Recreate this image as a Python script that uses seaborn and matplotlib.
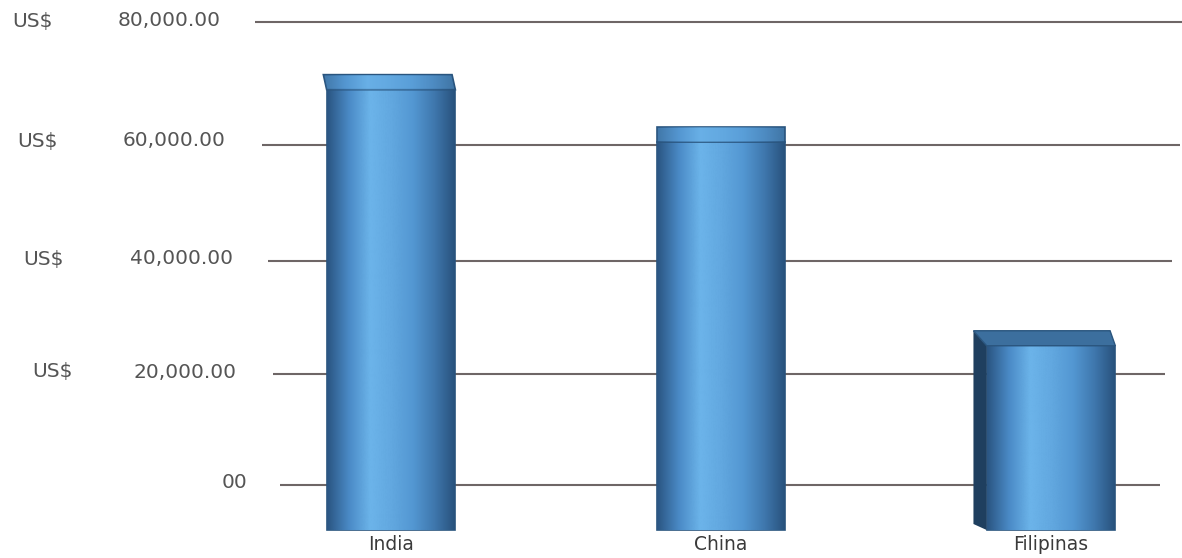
import numpy as np
import pandas as pd
import matplotlib
matplotlib.use("Agg")
import matplotlib.pyplot as plt
import seaborn as sns
from matplotlib.colors import LinearSegmentedColormap

# Data
countries = ["India", "China", "Filipinas"]
values = [69000, 60500, 25000]
tick_values = [0, 20000, 40000, 60000, 80000]
tick_labels = ["00", "20,000.00", "40,000.00", "60,000.00", "80,000.00"]
currency = "US$"

# Canvas geometry
W_PX, H_PX = 1182, 558
X0_PX, X_STEP_PX = 391, 330              # category 0 centre and spacing
WALL_PX = np.array([485, 374, 261, 145, 22], dtype=float)  # gridline rows
WALL_H = H_PX - WALL_PX                   # height above bottom edge
WALL_V = np.array(tick_values, dtype=float)


def _interp_ext(x, xp, fp):
    x = np.asarray(x, dtype=float)
    y = np.interp(x, xp, fp)
    lo_slope = (fp[1] - fp[0]) / (xp[1] - xp[0])
    hi_slope = (fp[-1] - fp[-2]) / (xp[-1] - xp[-2])
    y = np.where(x < xp[0], fp[0] + (x - xp[0]) * lo_slope, y)
    y = np.where(x > xp[-1], fp[-1] + (x - xp[-1]) * hi_slope, y)
    return y


def wall_forward(v):
    # value -> height in pixels (perspective-compressed wall)
    return _interp_ext(v, WALL_V, WALL_H)


def wall_inverse(h):
    return _interp_ext(h, WALL_H, WALL_V)


def px_x(px):
    return (px - X0_PX) / X_STEP_PX


def px_y(py):
    return float(wall_inverse(H_PX - py))


FLOOR = px_y(530)  # bars stand on a floor in front of the wall

sns.set_theme(style="white")
plt.rcParams["font.family"] = ["DejaVu Sans"]

fig = plt.figure(figsize=(W_PX / 100, H_PX / 100), dpi=100)
ax = fig.add_axes([0, 0, 1, 1])
ax.set_yscale("function", functions=(wall_forward, wall_inverse))

df = pd.DataFrame({"country": countries, "value": values})
df["height"] = df["value"] - FLOOR

sns.barplot(data=df, x="country", y="height", bottom=FLOOR, width=0.39,
            color="#5b9ed8", saturation=1, edgecolor="#2a557e", linewidth=1.2,
            ax=ax, zorder=3)

xlim = (px_x(0), px_x(W_PX))
ylim = (px_y(H_PX), px_y(0))

# Back-wall gridlines
grid_start = {0: 280, 20000: 273, 40000: 268, 60000: 262, 80000: 255}
grid_end = {0: 1160, 20000: 1165, 40000: 1172, 60000: 1180, 80000: 1182}
for v in tick_values:
    ax.hlines(v, px_x(grid_start[v]), px_x(grid_end[v]), color="#6e6666",
              lw=1.5, zorder=1)

# Y labels
cur_left = {20000: 32, 40000: 23, 60000: 17, 80000: 12}
num_right = {0: 247, 20000: 237, 40000: 233, 60000: 226, 80000: 221}
label_shift = {0: -3, 20000: -2, 40000: -2, 60000: -4, 80000: -1}
for v, lab in zip(tick_values, tick_labels):
    yv = px_y(H_PX - float(wall_forward(v)) + label_shift[v])
    ax.text(px_x(num_right[v]), yv, lab, ha="right", va="center",
            fontsize=14.5, color="#555555")
    if v in cur_left:
        ax.text(px_x(cur_left[v]), yv, currency, ha="left", va="center",
                fontsize=14.5, color="#555555")

# Shading on each bar face
cmap = LinearSegmentedColormap.from_list(
    "bar", ["#2b5683", "#4a8ac6", "#6cb4ea", "#62a8e0", "#5397d2", "#3f77ad", "#27507a"])
grad = np.linspace(0, 1, 256).reshape(1, -1)
depth_px = 15
dx_list = [-0.01, 0.0, -0.04]
for p, dx in zip(ax.patches, dx_list):
    x0, y0, w, h = p.get_x(), p.get_y(), p.get_width(), p.get_height()
    top = y0 + h
    back = float(wall_inverse(wall_forward(top) + depth_px))
    im = ax.imshow(grad, extent=[x0, x0 + w, y0, top], aspect="auto",
                   cmap=cmap, zorder=3.5, interpolation="bicubic")
    im.set_clip_path(p)
    if dx < -0.02:
        # visible left side and darker top face
        side_low = float(wall_inverse(wall_forward(y0) + 6))
        ax.fill([x0, x0 + dx, x0 + dx, x0], [y0 + 1, side_low, back, top],
                color="#1f3f5f", zorder=3.2, lw=0)
        ax.fill([x0, x0 + dx, x0 + w + dx * 0.4, x0 + w],
                [top, back, back, top],
                color="#3c6f9e", ec="#2a557e", lw=1, zorder=4)
    else:
        cap = ax.fill([x0, x0 + dx, x0 + w + dx, x0 + w],
                      [top, back, back, top],
                      color="#64aae2", ec="#2a557e", lw=1.2, zorder=4)[0]
        im2 = ax.imshow(grad, extent=[x0 + dx, x0 + w, top, back], aspect="auto",
                        cmap=cmap, zorder=4.1, interpolation="bicubic", alpha=0.6)
        im2.set_clip_path(cap)

# Category labels under the bars
for i, name in enumerate(countries):
    ax.text(i, px_y(545), name, ha="center", va="center", fontsize=13.5,
            color="#3a3a3a", zorder=5)

ax.set_xlim(*xlim)
ax.set_ylim(*ylim)
ax.set_axis_off()

fig.savefig("out.png", dpi=100)
